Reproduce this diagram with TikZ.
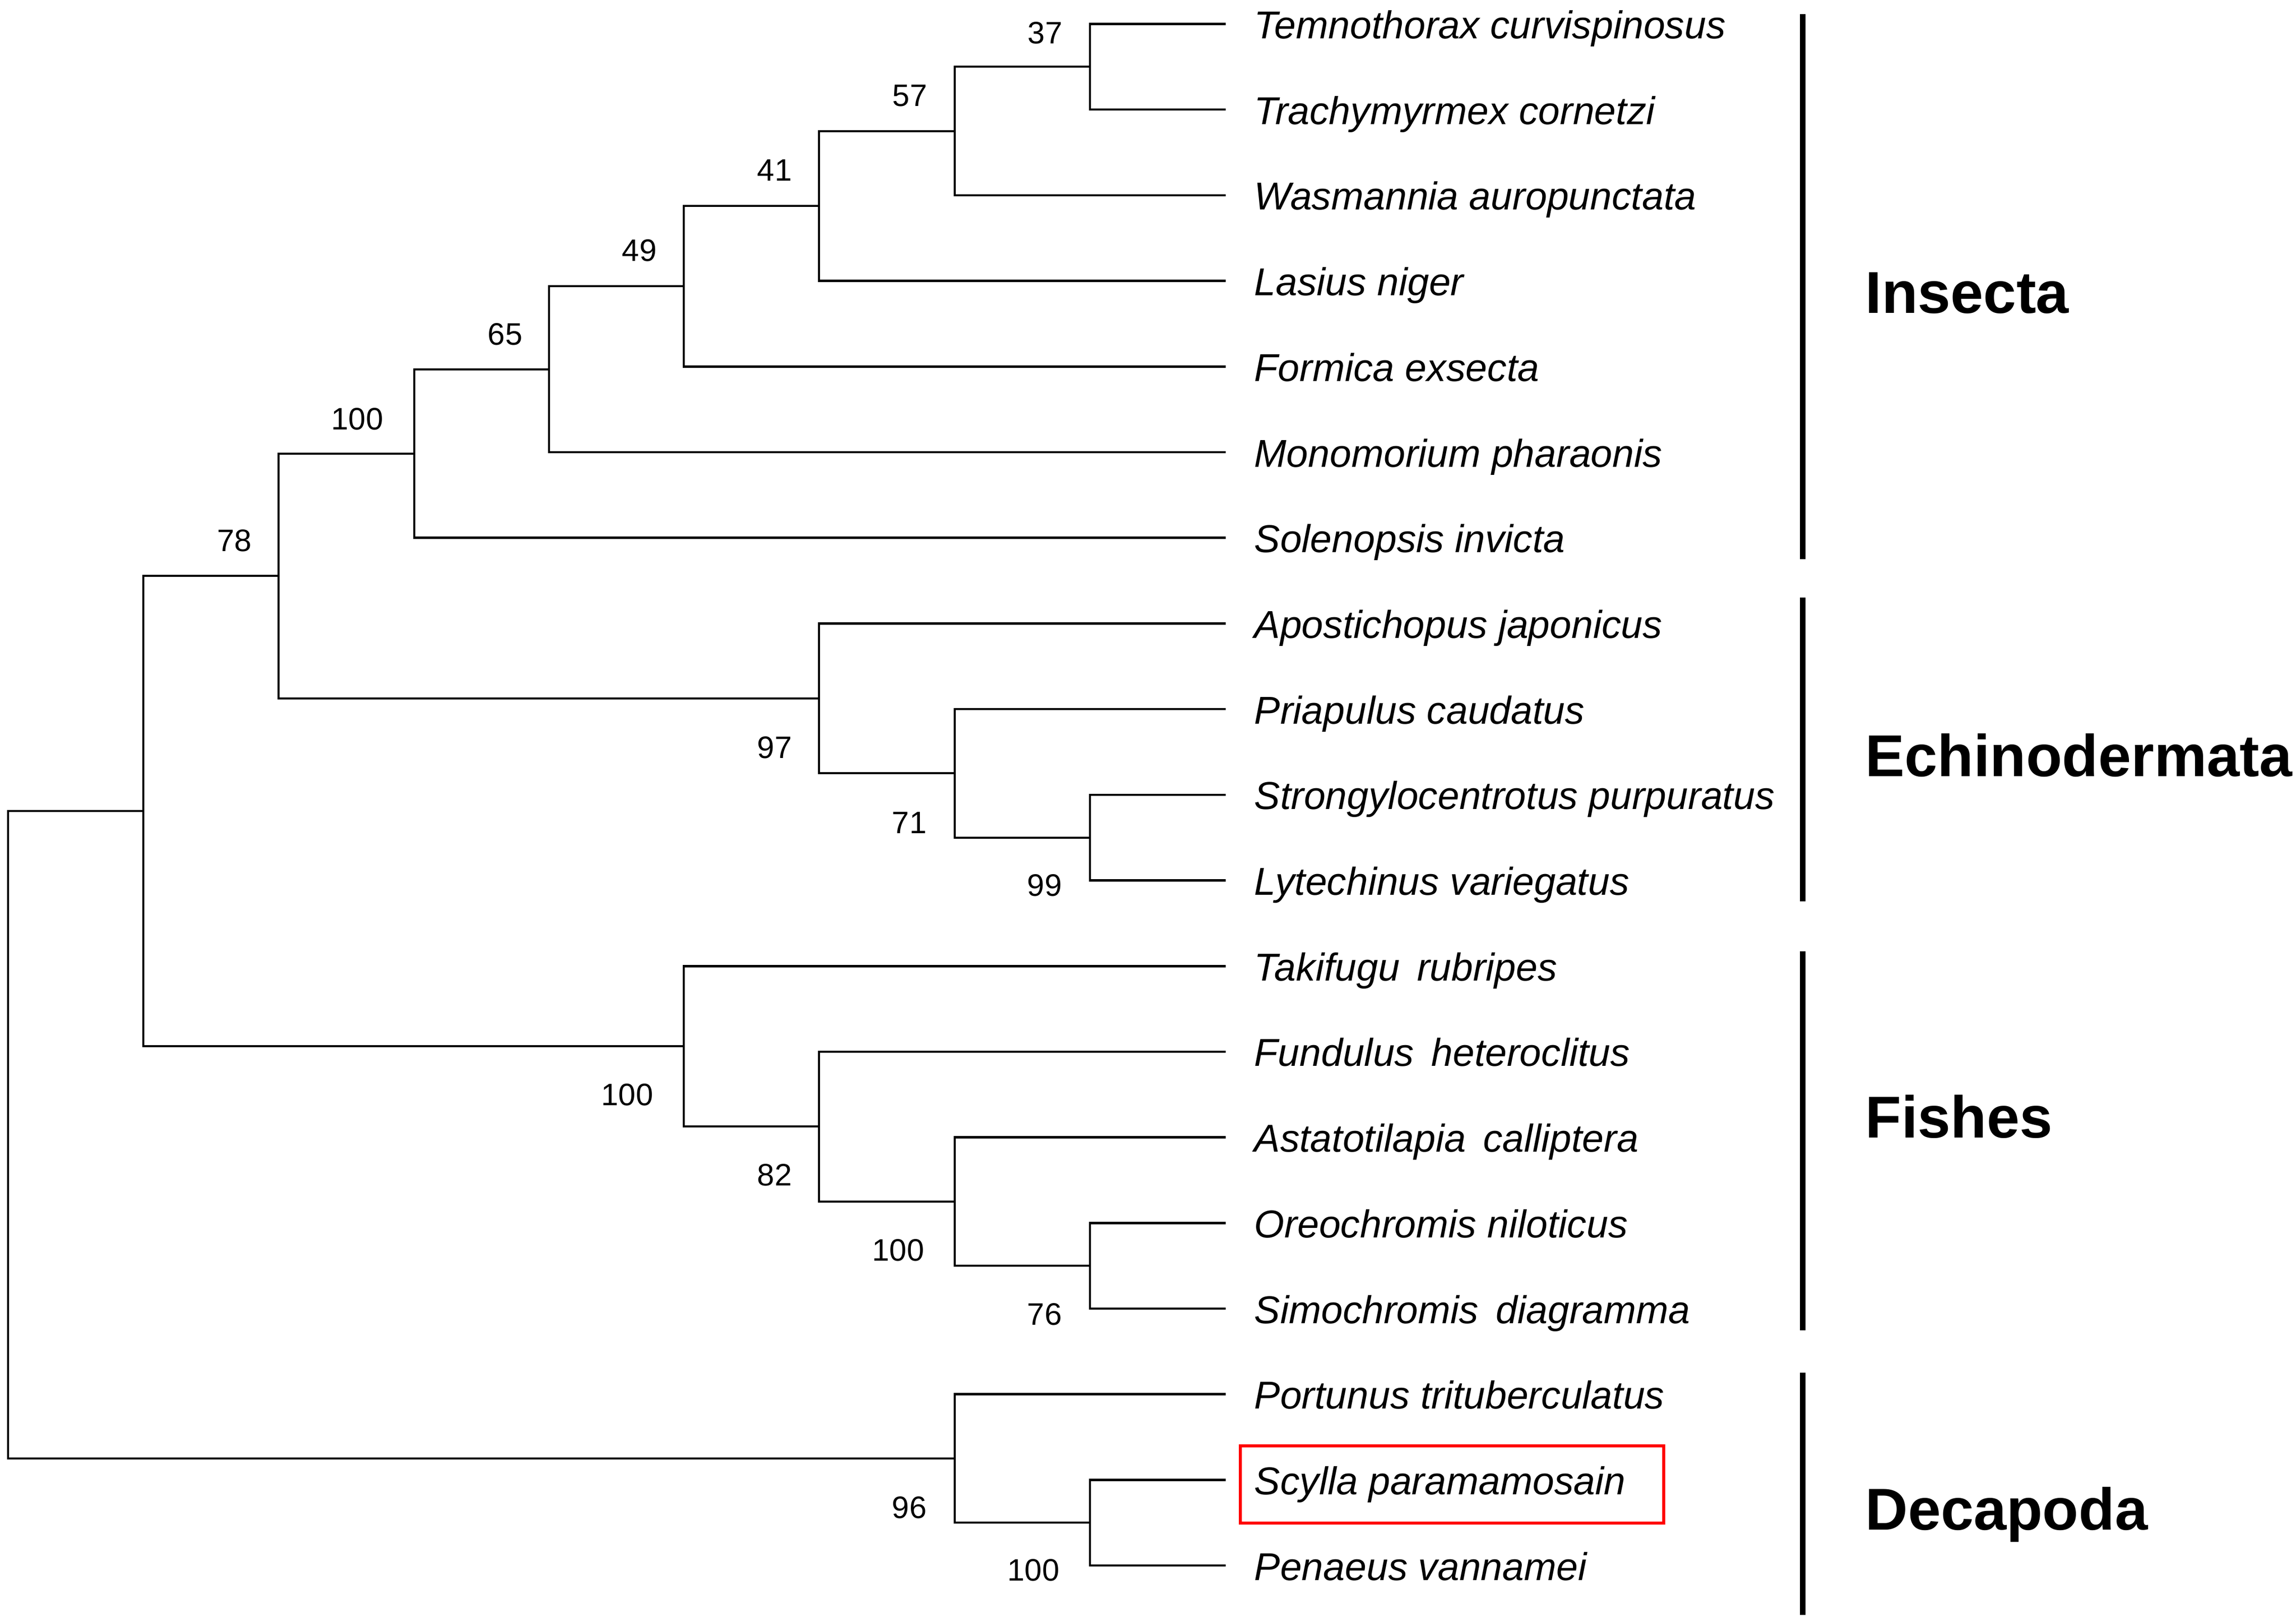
\documentclass[tikz,border=0pt]{standalone}
\usepackage{fontspec}
\setmainfont{Liberation Sans}
\usepackage{xcolor}

\begin{document}
\begin{tikzpicture}[
	branch/.style={line width=1.3pt},
	cladebar/.style={line width=3.1pt},
	leaf/.style={anchor=west, inner xsep=0.56cm, inner ysep=0pt, text height=0.74cm, text depth=0.16cm,
		font=\fontsize{21.9}{26}\selectfont\itshape},
	boot/.style={inner sep=0pt, font=\fontsize{17.5}{20}\selectfont},
	clade/.style={anchor=west, inner sep=0pt, text height=0.84cm, text depth=0pt,
		font=\fontsize{33.3}{38}\selectfont\bfseries}]
	\useasboundingbox (0, 0) rectangle (45.5, -32.13);
	% Internal nodes:
	\coordinate (root) at (0.16, -22.49);
	\coordinate (nX) at (2.84, -16.07);
	\coordinate (n78) at (5.52, -11.41);
	\coordinate (n100a) at (8.21, -8.99);
	\coordinate (n65) at (10.88, -7.32);
	\coordinate (n49) at (13.55, -5.67);
	\coordinate (n41) at (16.23, -4.08);
	\coordinate (n57) at (18.92, -2.60);
	\coordinate (n37) at (21.60, -1.32);
	\coordinate (n97) at (16.23, -13.84);
	\coordinate (n71) at (18.92, -15.32);
	\coordinate (n99) at (21.60, -16.60);
	\coordinate (n100b) at (13.55, -20.73);
	\coordinate (n82) at (16.23, -22.32);
	\coordinate (n100c) at (18.92, -23.81);
	\coordinate (n76) at (21.60, -25.08);
	\coordinate (n96) at (18.92, -28.90);
	\coordinate (n100d) at (21.60, -30.17);
	% Leaves:
	\node[leaf] (tc) at (24.29, -0.475){Temnothorax curvispinosus};
	\node[leaf] (tco) at (24.29, -2.172){Trachymyrmex cornetzi};
	\node[leaf] (wa) at (24.29, -3.869){Wasmannia auropunctata};
	\node[leaf] (ln) at (24.29, -5.566){Lasius niger};
	\node[leaf] (fe) at (24.29, -7.263){Formica exsecta};
	\node[leaf] (mp) at (24.29, -8.960){Monomorium pharaonis};
	\node[leaf] (si) at (24.29, -10.657){Solenopsis invicta};
	\node[leaf] (aj) at (24.29, -12.354){Apostichopus japonicus};
	\node[leaf] (pc) at (24.29, -14.051){Priapulus caudatus};
	\node[leaf] (sp) at (24.29, -15.748){Strongylocentrotus purpuratus};
	\node[leaf] (lv) at (24.29, -17.445){Lytechinus variegatus};
	\node[leaf] (tr) at (24.29, -19.142){Takifugu\ \,rubripes};
	\node[leaf] (fh) at (24.29, -20.839){Fundulus\ \,heteroclitus};
	\node[leaf] (ac) at (24.29, -22.536){Astatotilapia\ \,calliptera};
	\node[leaf] (on) at (24.29, -24.233){Oreochromis niloticus};
	\node[leaf] (sd) at (24.29, -25.930){Simochromis\ \,diagramma};
	\node[leaf] (pt) at (24.29, -27.627){Portunus trituberculatus};
	\node[leaf] (sc) at (24.29, -29.324){Scylla paramamosain};
	\node[leaf] (pv) at (24.29, -31.021){Penaeus vannamei};
	% Branches:
	\draw[branch] (root) |- (nX) (root) |- (n96);
	\draw[branch] (nX) |- (n78) (nX) |- (n100b);
	\draw[branch] (n78) |- (n100a) (n78) |- (n97);
	\draw[branch] (n100a) |- (n65) (n100a) |- (si.west);
	\draw[branch] (n65) |- (n49) (n65) |- (mp.west);
	\draw[branch] (n49) |- (n41) (n49) |- (fe.west);
	\draw[branch] (n41) |- (n57) (n41) |- (ln.west);
	\draw[branch] (n57) |- (n37) (n57) |- (wa.west);
	\draw[branch] (n37) |- (tc.west) (n37) |- (tco.west);
	\draw[branch] (n97) |- (aj.west) (n97) |- (n71);
	\draw[branch] (n71) |- (pc.west) (n71) |- (n99);
	\draw[branch] (n99) |- (sp.west) (n99) |- (lv.west);
	\draw[branch] (n100b) |- (tr.west) (n100b) |- (n82);
	\draw[branch] (n82) |- (fh.west) (n82) |- (n100c);
	\draw[branch] (n100c) |- (ac.west) (n100c) |- (n76);
	\draw[branch] (n76) |- (on.west) (n76) |- (sd.west);
	\draw[branch] (n96) |- (pt.west) (n96) |- (n100d);
	\draw[branch] (n100d) |- (sc.west) (n100d) |- (pv.west);
	% Bootstrap values:
	\node[boot] (b37) at (20.71, -0.65){37};
	\node[boot] (b57) at (18.03, -1.90){57};
	\node[boot] (b41) at (15.35, -3.37){41};
	\node[boot] (b49) at (12.67, -4.96){49};
	\node[boot] (b65) at (10.01, -6.62){65};
	\node[boot] (b100a) at (7.08, -8.30){100};
	\node[boot] (b78) at (4.65, -10.71){78};
	\node[boot] (b97) at (15.35, -14.81){97};
	\node[boot] (b71) at (18.02, -16.30){71};
	\node[boot] (b99) at (20.70, -17.54){99};
	\node[boot] (b100b) at (12.43, -21.69){100};
	\node[boot] (b82) at (15.35, -23.28){82};
	\node[boot] (b100c) at (17.80, -24.77){100};
	\node[boot] (b76) at (20.70, -26.04){76};
	\node[boot] (b96) at (18.02, -29.87){96};
	\node[boot] (b100d) at (20.48, -31.11){100};
	% Highlight box:
	\draw[red, line width=1.7pt] (24.58, -28.65) rectangle (32.97, -30.18);
	% Clade bars and names:
	\draw[cladebar] (35.72, -0.28) -- (35.72, -11.08);
	\draw[cladebar] (35.72, -11.84) -- (35.72, -17.86);
	\draw[cladebar] (35.72, -18.85) -- (35.72, -26.36);
	\draw[cladebar] (35.72, -27.20) -- (35.72, -32.00);
	\node[clade] (insecta) at (36.96, -5.78){Insecta};
	\node[clade] (echino) at (36.96, -14.96){Echinodermata};
	\node[clade] (fishes) at (36.96, -22.12){Fishes};
	\node[clade] (decapoda) at (36.96, -29.89){Decapoda};
\end{tikzpicture}
\end{document}
